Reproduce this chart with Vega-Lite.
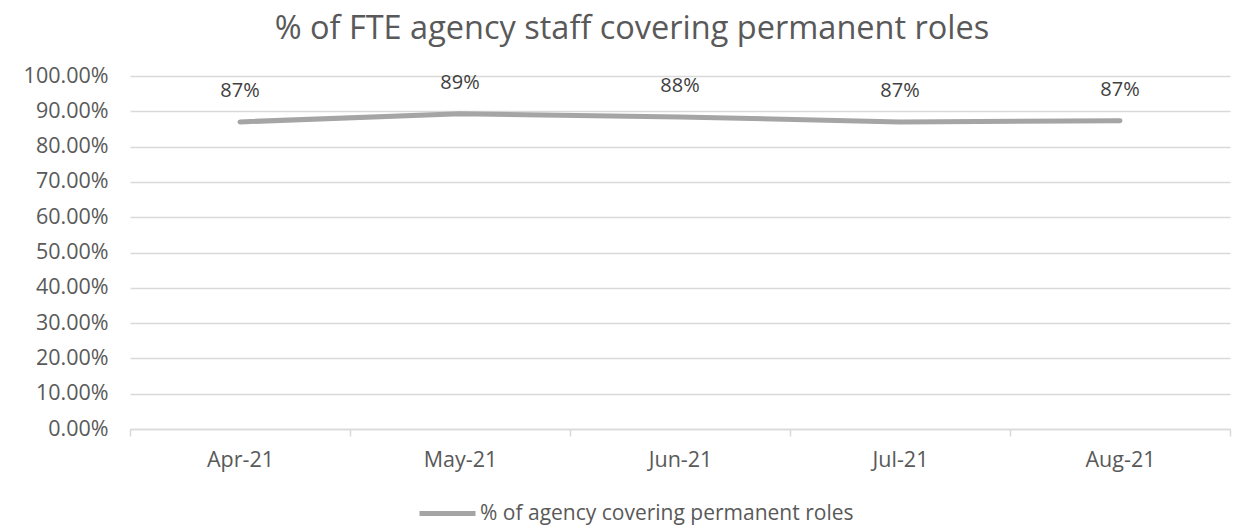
{
  "$schema": "https://vega.github.io/schema/vega-lite/v6.json",
  "autosize": {"type": "none"},
  "width": 1100,
  "height": 353,
  "padding": {"left": 130, "top": 76, "right": 5, "bottom": 97},
  "background": "white",
  "config": {"view": {"stroke": null}, "font": "Open Sans"},
  "title": {
    "text": "% of FTE agency staff covering permanent roles",
    "fontSize": 32.5,
    "fontWeight": "normal",
    "color": "#595959",
    "font": "Open Sans",
    "anchor": "middle",
    "dx": -48,
    "offset": 20
  },
  "data": {
    "values": [
      {"month": "Apr-21", "value": 0.870, "series": "% of agency covering permanent roles"},
      {"month": "May-21", "value": 0.893, "series": "% of agency covering permanent roles"},
      {"month": "Jun-21", "value": 0.884, "series": "% of agency covering permanent roles"},
      {"month": "Jul-21", "value": 0.870, "series": "% of agency covering permanent roles"},
      {"month": "Aug-21", "value": 0.873, "series": "% of agency covering permanent roles"}
    ]
  },
  "encoding": {
    "x": {
      "field": "month",
      "type": "nominal",
      "sort": null,
      "scale": {"paddingInner": 0, "paddingOuter": 0},
      "axis": {
        "title": null,
        "labelAngle": 0,
        "labelFontSize": 21.5,
        "labelColor": "#595959",
        "labelFont": "Open Sans",
        "tickBand": "extent",
        "domainColor": "#D9D9D9",
        "domainWidth": 1.5,
        "tickColor": "#D9D9D9",
        "tickWidth": 1.5,
        "tickSize": 7,
        "labelPadding": 13,
        "grid": false
      }
    },
    "y": {
      "field": "value",
      "type": "quantitative",
      "scale": {"domain": [0, 1], "nice": false},
      "axis": {
        "title": null,
        "format": ".2%",
        "values": [0, 0.1, 0.2, 0.3, 0.4, 0.5, 0.6, 0.7, 0.8, 0.9, 1.0],
        "labelFontSize": 21.5,
        "labelColor": "#595959",
        "labelFont": "Open Sans",
        "domain": false,
        "ticks": false,
        "labelPadding": 22,
        "gridColor": "#D9D9D9",
        "gridWidth": 1.5
      }
    }
  },
  "layer": [
    {
      "mark": {"type": "line", "strokeWidth": 5, "strokeCap": "round", "strokeJoin": "round"},
      "encoding": {
        "color": {
          "field": "series",
          "type": "nominal",
          "scale": {"range": ["#A5A5A5"]},
          "legend": {
            "title": null,
            "orient": "none",
            "legendX": 287,
            "legendY": 407,
            "symbolType": "stroke",
            "symbolStrokeWidth": 5,
            "symbolSize": 3136,
            "labelFontSize": 21,
            "labelColor": "#595959",
            "labelFont": "Open Sans",
            "labelOffset": 2,
            "labelLimit": 0
          }
        }
      }
    },
    {
      "mark": {"type": "text", "dy": -31, "fontSize": 20, "color": "#404040", "font": "Open Sans"},
      "encoding": {
        "text": {"field": "value", "type": "quantitative", "format": ".0%"}
      }
    }
  ]
}
